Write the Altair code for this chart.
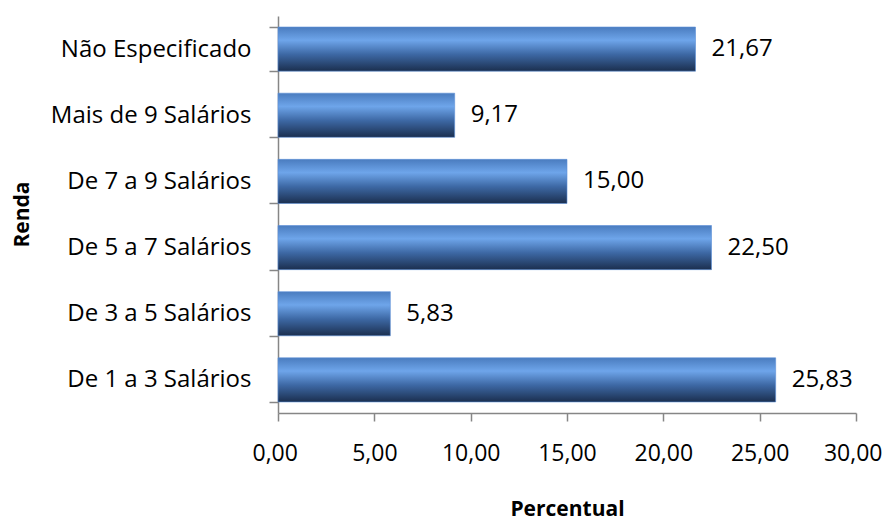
import altair as alt
import pandas as pd

categories = ["Não Especificado", "Mais de 9 Salários", "De 7 a 9 Salários",
              "De 5 a 7 Salários", "De 3 a 5 Salários", "De 1 a 3 Salários"]
values = [21.67, 9.17, 15.00, 22.50, 5.83, 25.83]
x_ticks = [0, 5, 10, 15, 20, 25, 30]

df = pd.DataFrame({
    "Renda": categories,
    "Percentual": values,
    "rotulo": [f"{v:.2f}".replace(".", ",") for v in values],
})

FONT = "Open Sans"
FS = 24
grad = alt.Gradient(
    gradient="linear", x1=0, y1=0, x2=0, y2=1,
    stops=[
        alt.GradientStop(offset=0, color="#4a7cbf"),
        alt.GradientStop(offset=0.3, color="#6ea5ea"),
        alt.GradientStop(offset=0.62, color="#3d68a4"),
        alt.GradientStop(offset=1, color="#1b2f4f"),
    ],
)

y_enc = alt.Y("Renda:N", sort=categories,
              scale=alt.Scale(paddingInner=0.333, paddingOuter=0.1667),
              axis=alt.Axis(title="Renda", tickBand="extent", tickSize=9,
                            labelPadding=18, labelLimit=400,
                            titleX=-256, titleY=198,
                            titleAngle=-90, titleBaseline="middle",
                            titleAlign="center"))
x_enc = alt.X("Percentual:Q",
              scale=alt.Scale(domain=[0, 30], nice=False),
              axis=alt.Axis(title="Percentual", values=x_ticks, tickSize=8,
                            labelPadding=21, grid=False, labelFlush=True,
                            labelFlushOffset=26,
                            labelOverlap=False, labelFontSize=23,
                            labelExpr="replace(format(datum.value, '.2f'), '.', ',')",
                            titleX=289, titleY=96, titleBaseline="middle"))

bars = alt.Chart(df).mark_bar(color=grad, stroke="#5a8fd6", strokeWidth=0.6).encode(
    x=x_enc, y=y_enc)
labels = alt.Chart(df).mark_text(align="left", dx=16, font=FONT, fontSize=FS,
                                 color="#000000").encode(
    x="Percentual:Q", y=alt.Y("Renda:N", sort=categories), text="rotulo:N")

chart = (bars + labels).properties(
    width=578, height=397,
    autosize=alt.AutoSizeParams(type="none"),
    padding={"left": 270, "top": 8, "right": 26, "bottom": 109},
).configure_view(stroke=None).configure_axis(
    domainColor="#868686", domainWidth=1.5, tickColor="#868686", tickWidth=1.5,
    labelFont=FONT, labelFontSize=FS, labelColor="#000000",
    titleFont=FONT, titleFontSize=21, titleFontWeight="bold", titleColor="#000000",
)

chart.save("out.html", embed_options={"renderer": "svg", "actions": False})
